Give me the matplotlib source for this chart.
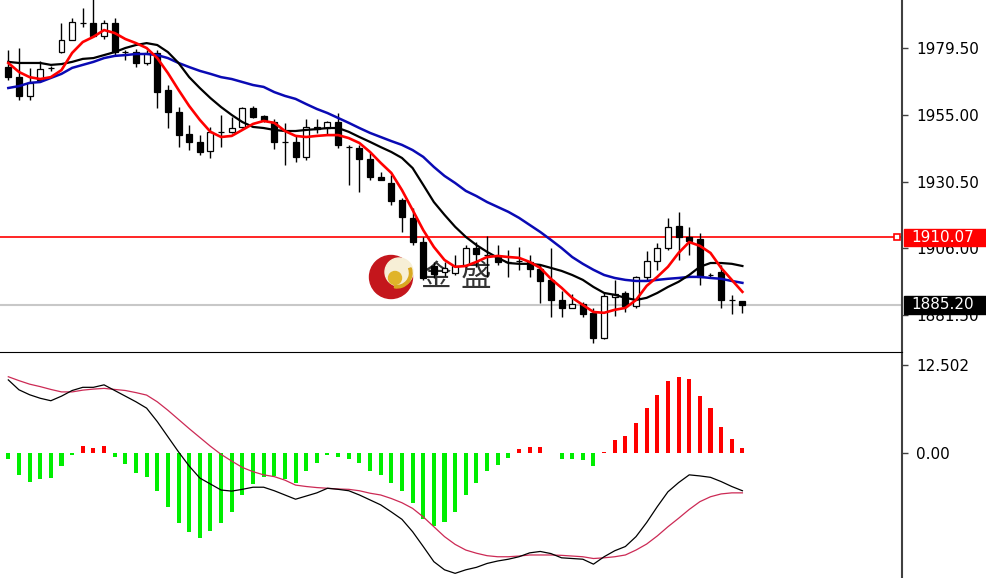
import matplotlib
matplotlib.use("Agg")
import matplotlib.pyplot as plt
from matplotlib.patches import Rectangle, Circle, Wedge
from matplotlib.transforms import Affine2D, blended_transform_factory
import numpy as np

# candles, oldest first
opens = [1972.6, 1968.9, 1962.0, 1967.9, 1972.4, 1978.1, 1982.5, 1988.9, 1988.8, 1984.0,
         1988.8, 1978.2, 1978.1, 1974.1, 1977.8, 1964.2, 1956.1, 1948.0, 1945.1, 1941.8,
         1948.8, 1948.8, 1950.6, 1957.6, 1954.6, 1952.4, 1945.1, 1945.1, 1939.6, 1950.6,
         1950.2, 1952.4, 1943.3, 1942.9, 1938.8, 1932.2, 1930.0, 1923.8, 1917.2, 1908.3,
         1899.5, 1897.3, 1896.9, 1899.9, 1906.1, 1903.6, 1902.8, 1901.0, 1901.4, 1901.0,
         1898.4, 1894.4, 1887.0, 1884.1, 1885.6, 1882.3, 1873.1, 1888.1, 1889.6, 1884.8,
         1895.5, 1901.4, 1906.1, 1914.2, 1910.2, 1909.4, 1896.3, 1897.3, 1887.1, 1886.6]
highs = [1978.9, 1979.6, 1972.3, 1974.8, 1973.0, 1988.8, 1990.6, 1994.3, 1998.5, 1989.9,
         1990.6, 1978.9, 1979.2, 1978.9, 1978.9, 1966.0, 1957.9, 1951.3, 1947.6, 1950.6,
         1955.0, 1954.3, 1957.9, 1958.3, 1955.0, 1953.5, 1952.1, 1947.6, 1953.5, 1953.5,
         1952.8, 1955.7, 1944.0, 1944.0, 1941.0, 1934.1, 1933.0, 1924.5, 1920.8, 1910.2,
         1901.0, 1901.0, 1903.6, 1907.2, 1908.3, 1910.5, 1907.2, 1905.4, 1906.5, 1903.6,
         1899.9, 1906.1, 1890.3, 1889.2, 1886.3, 1884.1, 1889.6, 1894.4, 1890.3, 1895.9,
         1905.0, 1908.0, 1917.2, 1919.4, 1913.9, 1911.7, 1897.0, 1899.9, 1888.9, 1886.3]
lows = [1967.9, 1960.5, 1960.5, 1967.1, 1971.2, 1977.8, 1982.5, 1987.3, 1983.7, 1982.9,
        1977.0, 1975.2, 1972.6, 1973.4, 1957.6, 1950.2, 1943.2, 1942.1, 1940.3, 1939.2,
        1943.2, 1948.4, 1950.2, 1953.9, 1952.4, 1942.5, 1936.6, 1937.7, 1938.5, 1948.4,
        1947.6, 1942.9, 1929.3, 1926.7, 1931.1, 1931.1, 1921.9, 1912.0, 1907.2, 1894.4,
        1895.1, 1895.9, 1896.2, 1899.2, 1899.2, 1895.5, 1899.9, 1895.5, 1898.1, 1895.5,
        1885.9, 1880.8, 1880.8, 1884.5, 1880.8, 1871.2, 1872.7, 1881.2, 1882.6, 1884.1,
        1894.0, 1898.1, 1905.4, 1901.7, 1903.6, 1892.6, 1895.5, 1884.1, 1881.9, 1882.3]
closes = [1968.9, 1962.0, 1966.8, 1971.9, 1972.1, 1982.5, 1989.2, 1988.7, 1984.0, 1988.8,
          1978.1, 1978.0, 1974.1, 1977.8, 1963.4, 1956.1, 1947.6, 1945.1, 1941.4, 1948.8,
          1948.6, 1950.2, 1957.6, 1954.3, 1953.2, 1945.1, 1944.9, 1939.6, 1950.6, 1949.8,
          1952.4, 1944.0, 1943.1, 1938.8, 1932.2, 1931.1, 1923.4, 1917.5, 1908.3, 1895.1,
          1896.6, 1898.8, 1899.5, 1906.1, 1903.9, 1903.4, 1901.0, 1900.8, 1901.2, 1898.4,
          1894.0, 1887.0, 1884.1, 1885.6, 1881.9, 1873.1, 1888.5, 1889.2, 1884.8, 1895.5,
          1901.4, 1906.1, 1913.9, 1910.2, 1908.7, 1895.5, 1896.1, 1887.0, 1886.9, 1885.2]

ma_fast = [1974.1, 1970.8, 1968.9, 1968.2, 1968.9, 1971.5, 1977.8, 1981.8, 1983.7, 1986.2,
           1985.1, 1982.9, 1981.4, 1979.6, 1975.9, 1970.4, 1964.2, 1958.3, 1953.2, 1948.8,
           1946.9, 1947.3, 1949.5, 1951.7, 1952.8, 1952.1, 1949.1, 1947.3, 1946.9, 1947.3,
           1947.6, 1947.6, 1946.5, 1944.7, 1941.4, 1937.4, 1933.7, 1927.4, 1920.1, 1912.7,
           1906.5, 1901.7, 1899.2, 1899.5, 1901.0, 1902.8, 1903.2, 1902.8, 1902.5, 1901.0,
           1898.8, 1894.8, 1891.5, 1887.8, 1885.2, 1882.6, 1882.3, 1883.4, 1884.1, 1887.0,
           1892.2, 1895.5, 1899.2, 1904.3, 1908.3, 1906.9, 1904.3, 1898.8, 1894.4, 1890.0]
ma_mid = [1974.5, 1974.1, 1974.1, 1974.1, 1973.4, 1973.7, 1974.5, 1975.6, 1975.9, 1977.0,
          1978.1, 1979.6, 1980.7, 1981.4, 1980.7, 1978.1, 1974.1, 1968.9, 1964.9, 1961.2,
          1957.9, 1955.0, 1952.4, 1950.6, 1950.2, 1949.5, 1949.1, 1949.1, 1949.5, 1949.8,
          1950.2, 1950.2, 1948.8, 1946.9, 1945.1, 1943.2, 1941.4, 1939.2, 1935.5, 1929.3,
          1923.0, 1918.3, 1913.9, 1910.2, 1907.2, 1904.7, 1902.5, 1900.6, 1900.3, 1900.3,
          1899.9, 1898.8, 1897.7, 1896.2, 1894.4, 1891.8, 1889.6, 1888.9, 1887.8, 1887.0,
          1887.8, 1889.6, 1891.8, 1893.7, 1896.2, 1899.2, 1900.6, 1900.6, 1900.3, 1899.5]
ma_slow = [1964.9, 1965.6, 1966.8, 1967.1, 1968.6, 1970.1, 1972.3, 1973.4, 1974.5, 1975.9,
           1976.7, 1977.0, 1977.4, 1977.4, 1977.0, 1975.9, 1974.1, 1972.6, 1971.2, 1970.1,
           1968.9, 1968.2, 1967.1, 1966.0, 1965.3, 1963.4, 1962.0, 1960.9, 1959.0, 1957.2,
           1955.7, 1953.9, 1952.1, 1950.2, 1948.4, 1946.9, 1945.4, 1944.0, 1942.1, 1939.6,
           1935.9, 1932.6, 1930.0, 1927.1, 1925.2, 1923.0, 1921.2, 1919.4, 1917.2, 1914.6,
           1912.0, 1909.1, 1906.1, 1902.8, 1900.3, 1898.1, 1896.2, 1895.1, 1894.4, 1894.0,
           1894.0, 1894.4, 1894.8, 1895.1, 1895.5, 1895.5, 1895.1, 1894.8, 1894.0, 1893.3]

hist = [-0.85, -3.07, -4.0, -3.7, -3.5, -1.8, -0.2, 1.0, 0.7, 1.0,
        -0.5, -1.5, -2.75, -3.3, -5.3, -7.6, -9.8, -11.2, -12.0, -11.0,
        -9.8, -8.3, -5.9, -4.35, -3.4, -3.2, -3.7, -4.2, -2.5, -1.3,
        -0.2, -0.5, -0.8, -1.3, -2.5, -3.1, -4.2, -5.4, -7.0, -9.35,
        -10.25, -9.7, -8.3, -5.9, -4.2, -2.5, -1.6, -0.7, 0.6, 0.95,
        0.95, 0.1, -0.8, -0.8, -0.95, -1.8, 0.2, 1.9, 2.45, 4.35,
        6.4, 8.25, 10.3, 10.75, 10.5, 8.1, 6.4, 3.8, 2.0, 0.7]
macd_line = [10.4, 9.0, 8.3, 7.8, 7.45, 8.1, 8.9, 9.35, 9.35, 9.7,
             8.9, 8.1, 7.3, 6.4, 4.5, 2.35, 0.2, -1.8, -3.5, -4.35,
             -5.2, -5.35, -5.1, -4.8, -4.8, -5.3, -5.9, -6.5, -6.05, -5.6,
             -4.95, -5.1, -5.3, -5.9, -6.6, -7.3, -8.3, -9.35, -11.1, -13.2,
             -15.35, -16.5, -17.0, -16.5, -16.15, -15.6, -15.25, -15.0, -14.65, -14.1,
             -13.9, -14.2, -14.8, -14.9, -15.0, -15.7, -14.65, -13.8, -13.2, -11.8,
             -9.8, -7.55, -5.45, -4.15, -3.05, -3.2, -3.4, -4.0, -4.7, -5.3]
signal_line = [10.85, 10.3, 9.8, 9.45, 9.05, 8.7, 8.7, 8.95, 9.1, 9.2,
               9.05, 8.9, 8.6, 8.25, 7.3, 6.1, 4.8, 3.5, 2.25, 1.0,
               -0.15, -1.1, -2.0, -2.6, -3.05, -3.3, -3.8, -4.5, -4.7, -4.85,
               -4.95, -5.05, -5.1, -5.3, -5.65, -5.9, -6.4, -7.0, -7.8, -9.0,
               -10.4, -11.8, -12.9, -13.7, -14.15, -14.5, -14.65, -14.65, -14.55, -14.4,
               -14.4, -14.4, -14.45, -14.55, -14.65, -14.9, -14.8, -14.65, -14.4, -13.7,
               -12.85, -11.7, -10.4, -9.2, -7.95, -6.85, -6.15, -5.75, -5.6, -5.6]

price_ticks = [1979.50, 1955.00, 1930.50, 1906.00, 1881.50]
macd_ticks = [12.502, 0.0]
macd_tick_labels = ["12.502", "0.00"]
level_price = 1910.07
last_price = 1885.20

W, H = 986, 578
fig = plt.figure(figsize=(W / 100, H / 100), dpi=100)
# pixel coords (origin top-left) -> figure
pix = Affine2D().scale(1 / W, -1 / H).translate(0, 1) + fig.transFigure

plot_right = 902 / W
ax = fig.add_axes([0, 1 - 352 / H, plot_right, 352 / H])
ax2 = fig.add_axes([0, 0, plot_right, 224 / H])

x = np.arange(len(closes))
xlim = (-0.78, 84.0)

# --- price panel ---
ax.axhline(last_price, color="#c8c8c8", lw=1.5, zorder=1)
ax.axhline(level_price, color="#ff0000", lw=1.2, zorder=2)
ax.plot([xlim[1] - 0.45], [level_price], marker="s", ms=4, mfc="white", mec="#ff0000", mew=1.2,
        zorder=2, clip_on=False)

o = np.array(opens); c = np.array(closes)
ax.vlines(x, lows, highs, color="black", lw=1, zorder=3)
up = c >= o
ax.bar(x[up], (c - o)[up], bottom=o[up], width=0.56, color="white", edgecolor="black",
       linewidth=0.9, zorder=3.5)
ax.bar(x[~up], (o - c)[~up], bottom=c[~up], width=0.56, color="black", edgecolor="black",
       linewidth=0.9, zorder=3.5)

ax.plot(x, ma_slow, color="#0a0ab4", lw=1.8, zorder=4)
ax.plot(x, ma_mid, color="black", lw=1.6, zorder=4)
ax.plot(x, ma_fast, color="#ff0000", lw=1.9, zorder=4.5)

ax.set_xlim(*xlim)
ax.set_ylim(1867.9, 1997.24)

# watermark logo
ax.add_patch(Circle((391, 277), 21.5, transform=pix, color="#c4161c", zorder=2.2))
ax.add_patch(Circle((399, 272), 14, transform=pix, color="#f7efd6", zorder=2.3))
ax.add_patch(Wedge((397, 273), 15, -20, 100, width=2.5, transform=pix, color="#d9a920", zorder=2.35))
ax.add_patch(Circle((395, 278), 6.5, transform=pix, color="#e0b42a", zorder=2.4))
for ch, cx in [("金", 435), ("盛", 476)]:
    ax.text(cx, 277, ch, transform=pix, ha="center", va="center", fontsize=22,
            family=["Noto Sans CJK SC", "DejaVu Sans"], color="#333333", zorder=2.5)

# --- MACD panel ---
h = np.array(hist)
ax2.bar(x, h, width=0.38, color=np.where(h >= 0, "#ff0000", "#00ee00"), zorder=2)
ax2.plot(x, signal_line, color="#cc2a55", lw=0.9, zorder=3)
ax2.plot(x, macd_line, color="black", lw=0.9, zorder=3)
ax2.set_xlim(*xlim)
ax2.set_ylim(-17.66, 14.07)

for a in (ax, ax2):
    a.set_xticks([])
    a.yaxis.tick_right()
    a.tick_params(axis="y", direction="out", length=4, width=1, color="#404040",
                  labelsize=11, pad=6, labelcolor="black")
    for s in ("left", "top"):
        a.spines[s].set_visible(False)
    a.spines["right"].set_color("#404040")
    a.spines["right"].set_linewidth(1.5)

ax.spines["bottom"].set_color("black")
ax2.spines["bottom"].set_visible(False)
ax.set_yticks(price_ticks)
ax.set_yticklabels([f"{t:.2f}" for t in price_ticks])
ax2.set_yticks(macd_ticks)
ax2.set_yticklabels(macd_tick_labels)

# price tags on the scale (they sit over the scale labels, as in the terminal)
bt = blended_transform_factory(pix, ax.transData)
for val, col in [(level_price, "#ff0000"), (last_price, "black")]:
    ax.add_patch(Rectangle((904, val - 3.2), 82, 6.4, transform=bt, color=col,
                           clip_on=False, zorder=10))
    ax.text(911, val, f"{val:.2f}", transform=bt, color="white", fontsize=11,
            va="center", ha="left", clip_on=False, zorder=11)

fig.savefig("out.png", dpi=100, facecolor="white")
